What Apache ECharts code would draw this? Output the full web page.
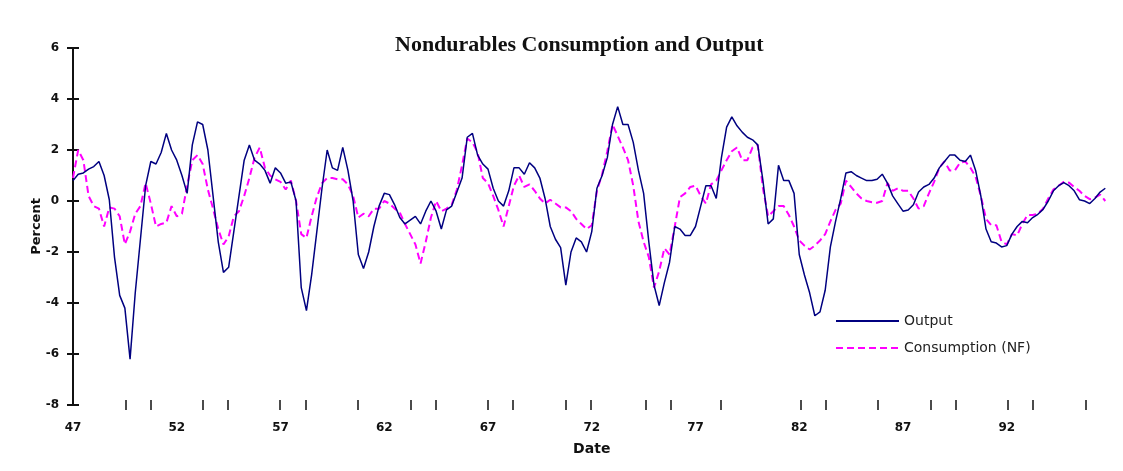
<!DOCTYPE html>
<html>
<head>
<meta charset="utf-8">
<title>Nondurables Consumption and Output</title>
<script src="https://cdn.jsdelivr.net/npm/echarts@6/dist/echarts.min.js"></script>
<style>
  html, body { margin: 0; padding: 0; background: #fff; }
  #chart { width: 1123px; height: 471px; }
</style>
</head>
<body>
<div id="chart"></div>
<script>
// Quarterly series, first observation 1947Q1
const startYear = 1947;
const quartersPerYear = 4;

// Output, percent deviation
const outputPct = [
  0.8, 1.05, 1.1, 1.25, 1.35, 1.55, 1.0, 0.05, -2.2, -3.7,
  -4.2, -6.2, -3.6, -1.5, 0.6, 1.55, 1.45, 1.9, 2.65, 2.0,
  1.6, 1.0, 0.3, 2.2, 3.1, 3.0, 2.0, 0.2, -1.6, -2.8,
  -2.6, -1.2, 0.2, 1.6, 2.2, 1.6, 1.45, 1.2, 0.7, 1.3,
  1.1, 0.7, 0.75, 0.0, -3.4, -4.3, -2.9, -1.2, 0.5, 2.0,
  1.3, 1.2, 2.1, 1.2, 0.0, -2.1, -2.65, -2.0, -1.0, -0.2,
  0.3, 0.25, -0.15, -0.65, -0.9, -0.75, -0.6, -0.9, -0.4, 0.0,
  -0.4, -1.1, -0.35, -0.2, 0.35, 0.9, 2.5, 2.65, 1.8, 1.45,
  1.25, 0.5, 0.0, -0.2, 0.4, 1.3, 1.3, 1.05, 1.5, 1.3,
  0.9, 0.1, -1.0, -1.5, -1.83, -3.3, -2.0, -1.45, -1.6, -2.0,
  -1.2, 0.5, 1.0, 1.7, 3.0, 3.7, 3.0, 3.0, 2.3, 1.2,
  0.3, -1.6, -3.3, -4.1, -3.2, -2.4, -1.0, -1.1, -1.35, -1.35,
  -1.0, -0.2, 0.6, 0.6, 0.1, 1.7, 2.9, 3.3, 2.95, 2.7,
  2.5, 2.4, 2.2, 0.8, -0.9, -0.7, 1.4, 0.8, 0.8, 0.3,
  -2.1, -2.9, -3.6, -4.5, -4.35, -3.5, -1.8, -0.8, 0.1, 1.1,
  1.15, 1.0, 0.9, 0.8, 0.8, 0.85, 1.05, 0.7, 0.2, -0.1,
  -0.4, -0.35, -0.15, 0.35, 0.55, 0.65, 0.9, 1.3, 1.55, 1.8,
  1.8, 1.6, 1.55, 1.8, 1.2, 0.2, -1.1, -1.6, -1.65, -1.8,
  -1.75, -1.3, -1.0, -0.8, -0.85, -0.65, -0.52, -0.33, 0.0, 0.4,
  0.6, 0.72, 0.6, 0.4, 0.05, 0.0, -0.1, 0.1, 0.35, 0.5
];

// Nondurables consumption (NF), percent deviation
const consumptionPct = [
  0.9, 2.0, 1.6, 0.2, -0.2, -0.3, -1.0, -0.25, -0.3, -0.6,
  -1.7, -1.2, -0.5, -0.2, 0.7, -0.1, -1.0, -0.9, -0.85, -0.2,
  -0.6, -0.5, 0.6, 1.6, 1.8, 1.45, 0.45, -0.3, -1.1, -1.7,
  -1.4, -0.6, -0.4, 0.2, 0.9, 1.7, 2.1, 1.3, 1.0, 0.85,
  0.75, 0.45, 0.8, 0.0, -1.3, -1.45, -0.6, 0.15, 0.7, 0.9,
  0.9, 0.85, 0.85, 0.65, 0.2, -0.65, -0.5, -0.6, -0.3, -0.3,
  0.0, -0.1, -0.3, -0.45, -0.9, -1.3, -1.7, -2.45, -1.6, -0.65,
  0.0, -0.4, -0.3, -0.15, 0.45, 1.4, 2.45, 2.3, 1.9, 0.9,
  0.7, 0.2, -0.35, -1.0, -0.2, 0.6, 1.0, 0.55, 0.65, 0.4,
  0.1, -0.1, 0.05, -0.1, -0.25, -0.25, -0.4, -0.7, -0.9, -1.1,
  -0.95, 0.4, 1.05, 1.95, 3.0, 2.55, 2.1, 1.6, 0.6, -0.8,
  -1.6, -2.2, -3.4, -2.75, -1.85, -2.1, -1.0, 0.15, 0.3, 0.55,
  0.6, 0.2, -0.1, 0.65, 0.8, 1.2, 1.6, 1.95, 2.1, 1.6,
  1.6, 2.1, 2.2, 0.5, -0.6, -0.4, -0.2, -0.2, -0.55, -1.0,
  -1.55, -1.75, -1.9, -1.75, -1.55, -1.3, -0.8, -0.35, -0.1, 0.8,
  0.55, 0.3, 0.1, 0.0, -0.05, -0.07, 0.0, 0.7, 0.4, 0.5,
  0.4, 0.4, 0.1, -0.3, -0.2, 0.3, 0.75, 1.3, 1.55, 1.2,
  1.2, 1.5, 1.55, 1.3, 0.95, 0.2, -0.7, -0.95, -0.95, -1.6,
  -1.7, -1.3, -1.35, -0.9, -0.55, -0.55, -0.5, -0.3, 0.1, 0.45,
  0.6, 0.75, 0.72, 0.55, 0.4, 0.2, 0.07, 0.13, 0.25, 0.0
];

// Date axis: labelled years and the short marks along the bottom
const labelYears = [1947, 1952, 1957, 1962, 1967, 1972, 1977, 1982, 1987, 1992];
const markYears = [
  1949.55, 1950.76, 1953.27, 1954.47, 1956.98, 1958.23, 1960.73, 1963.29,
  1964.49, 1967.0, 1968.2, 1970.76, 1971.96, 1974.61, 1975.82, 1978.23,
  1982.08, 1983.29, 1985.8, 1988.35, 1989.55, 1992.06, 1993.27, 1995.82
];

// Percent axis
const yMin = -8, yMax = 6, yStep = 2;

const toPoints = arr => arr.map((v, i) => [startYear + i / quartersPerYear, v]);

const chart = echarts.init(document.getElementById('chart'), null, { renderer: 'canvas' });

const axisFont = { fontFamily: 'DejaVu Sans', fontSize: 12, fontWeight: 'bold', color: '#111' };

chart.setOption({
  animation: false,
  backgroundColor: '#ffffff',
  title: {
    text: 'Nondurables Consumption and Output',
    left: 390,
    top: 29,
    textStyle: {
      fontFamily: 'Liberation Serif',
      fontSize: 22,
      fontWeight: 'bold',
      color: '#111'
    }
  },
  legend: {
    orient: 'vertical',
    left: 835,
    top: 314,
    padding: 0,
    itemWidth: 63,
    itemHeight: 14,
    itemGap: 13,
    itemStyle: { opacity: 0 },
    textStyle: { fontFamily: 'DejaVu Sans', fontSize: 14, color: '#222' },
    data: ['Output', 'Consumption (NF)']
  },
  grid: {
    left: 73,
    right: 12.5,
    top: 48,
    bottom: 66,
    containLabel: false,
    outerBoundsMode: 'none'
  },
  xAxis: {
    type: 'value',
    min: 1947,
    max: 1997,
    offset: -5,
    name: 'Date',
    nameLocation: 'middle',
    nameGap: 42,
    nameMoveOverlap: false,
    nameTextStyle: { fontFamily: 'DejaVu Sans', fontSize: 14, fontWeight: 'bold', color: '#111' },
    axisLine: { show: false, onZero: false },
    axisTick: {
      show: true,
      inside: false,
      length: 10,
      customValues: markYears,
      lineStyle: { color: '#111', width: 1.5 }
    },
    axisLabel: {
      ...axisFont,
      margin: 22,
      customValues: labelYears,
      formatter: v => String(Math.round(v)).slice(2)
    },
    splitLine: { show: false }
  },
  yAxis: [
    {
      type: 'value',
      position: 'left',
      min: yMin,
      max: yMax,
      interval: yStep,
      name: 'Percent',
      nameLocation: 'middle',
      nameGap: 30,
      nameMoveOverlap: false,
      nameTextStyle: { fontFamily: 'DejaVu Sans', fontSize: 13, fontWeight: 'bold', color: '#111' },
      axisLine: { show: true, onZero: false, lineStyle: { color: '#111', width: 2 } },
      axisTick: { show: true, inside: false, length: 6, lineStyle: { color: '#111', width: 2 } },
      axisLabel: { ...axisFont, margin: 14 },
      splitLine: { show: false }
    },
    {
      type: 'value',
      position: 'left',
      min: yMin,
      max: yMax,
      interval: yStep,
      axisLine: { show: false, onZero: false },
      axisTick: { show: true, inside: true, length: 6, lineStyle: { color: '#111', width: 2 } },
      axisLabel: { show: false },
      splitLine: { show: false }
    }
  ],
  series: [
    {
      name: 'Output',
      type: 'line',
      yAxisIndex: 0,
      data: toPoints(outputPct),
      symbol: 'none',
      smooth: false,
      lineStyle: { color: '#000080', width: 1.5 },
      itemStyle: { color: '#000080' },
      z: 3
    },
    {
      name: 'Consumption (NF)',
      type: 'line',
      yAxisIndex: 0,
      data: toPoints(consumptionPct),
      symbol: 'none',
      smooth: false,
      lineStyle: { color: '#ff00ff', width: 2, type: [7, 4] },
      itemStyle: { color: '#ff00ff' },
      z: 2
    }
  ]
});
</script>
</body>
</html>
